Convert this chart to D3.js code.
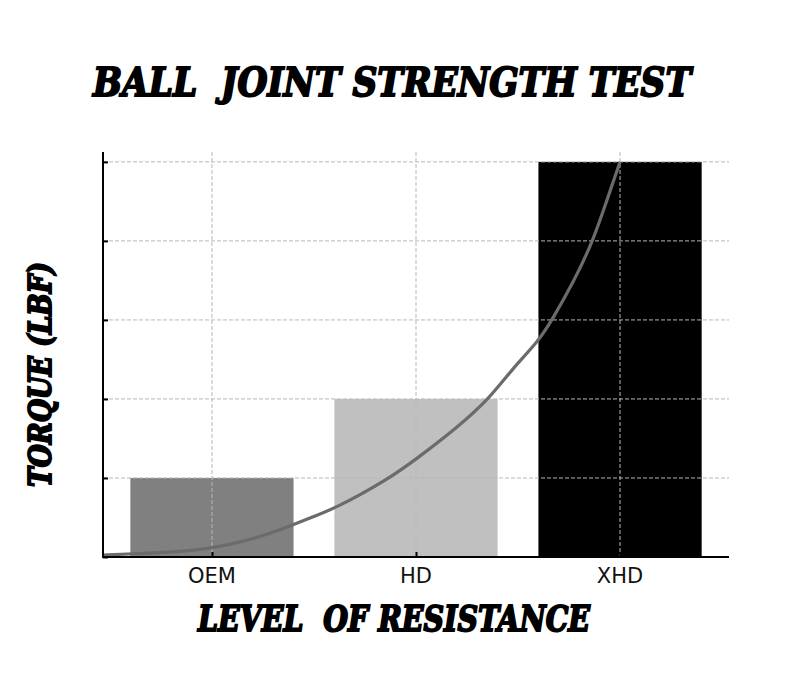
<!DOCTYPE html>
<html>
<head>
<meta charset="utf-8">
<script src="https://cdn.jsdelivr.net/npm/d3@7"></script>
<style>
  body { margin: 0; background: #fff; }
  text { white-space: pre; }
</style>
</head>
<body>
<script>
// chart data
var categories = ["OEM", "HD", "XHD"];
var torque = [1, 2, 5];
var barColors = ["#808080", "#c0c0c0", "#000000"];
var yTicks = [0, 1, 2, 3, 4, 5];
// trend curve (x in category units, y in torque units)
var curveX = [-0.534, -0.387, -0.221, 0.0, 0.186, 0.333, 0.431, 0.603, 0.873, 0.995, 1.201, 1.363, 1.475, 1.598, 1.667, 1.770, 1.868, 1.936, 2.0];
var curveY = [0.025, 0.042, 0.054, 0.105, 0.215, 0.342, 0.447, 0.608, 1.0, 1.228, 1.633, 2.013, 2.392, 2.722, 3.0, 3.468, 4.0, 4.519, 5.0];

var W = 789, H = 700;
var mLeft = 103, mRight = 729, mTop = 152, mBottom = 557;

var svg = d3.select("body").append("svg")
    .attr("width", W)
    .attr("height", H);

var x = d3.scaleLinear().domain([-0.534, 2.534]).range([mLeft, mRight]);
var y = d3.scaleLinear().domain([0, 5.125]).range([mBottom, mTop]);
var barW = 0.8;

// bars
svg.selectAll("rect.bar")
    .data(torque)
    .enter()
    .append("rect")
    .attr("class", "bar")
    .attr("x", function(d, i) { return x(i - barW / 2); })
    .attr("width", function(d, i) { return x(i + barW / 2) - x(i - barW / 2); })
    .attr("y", function(d) { return y(d); })
    .attr("height", function(d) { return y(0) - y(d); })
    .attr("fill", function(d, i) { return barColors[i]; });

// grid on top of bars
svg.selectAll("line.hgrid")
    .data(yTicks.slice(1))
    .enter()
    .append("line")
    .attr("x1", mLeft).attr("x2", mRight)
    .attr("y1", function(d) { return y(d); })
    .attr("y2", function(d) { return y(d); })
    .attr("stroke", "#b8b8b8")
    .attr("stroke-width", 1)
    .attr("stroke-dasharray", "4,2");

svg.selectAll("line.vgrid")
    .data(categories)
    .enter()
    .append("line")
    .attr("x1", function(d, i) { return x(i); })
    .attr("x2", function(d, i) { return x(i); })
    .attr("y1", mTop).attr("y2", mBottom)
    .attr("stroke", "#b8b8b8")
    .attr("stroke-width", 1)
    .attr("stroke-dasharray", "4,2");

// trend line, smoothed through the read points
var pts = curveX.map(function(v, i) { return [v, curveY[i]]; });
svg.append("path")
    .datum(pts)
    .attr("fill", "none")
    .attr("stroke", "#6b6b6b")
    .attr("stroke-width", 3.2)
    .attr("d", d3.line()
        .x(function(d) { return x(d[0]); })
        .y(function(d) { return y(d[1]); })
        .curve(d3.curveBasis));

// axes (ticks point inward, no y labels)
var yAxis = d3.axisRight(y).tickValues(yTicks).tickSize(5).tickFormat("");
var gy = svg.append("g").attr("transform", "translate(" + mLeft + ",0)").call(yAxis);
gy.select(".domain").remove();
gy.selectAll(".tick line").attr("stroke", "#000").attr("stroke-width", 2);

var xAxis = d3.axisTop(x).tickValues([0, 1, 2]).tickSize(5).tickFormat("");
var gx = svg.append("g").attr("transform", "translate(0," + mBottom + ")").call(xAxis);
gx.select(".domain").remove();
gx.selectAll(".tick line").attr("stroke", "#000").attr("stroke-width", 2);

svg.append("line")
    .attr("x1", mLeft).attr("x2", mLeft)
    .attr("y1", mTop).attr("y2", mBottom + 1)
    .attr("stroke", "#000").attr("stroke-width", 2);
svg.append("line")
    .attr("x1", mLeft - 1).attr("x2", mRight)
    .attr("y1", mBottom).attr("y2", mBottom)
    .attr("stroke", "#000").attr("stroke-width", 2);

// category labels
svg.selectAll("text.cat")
    .data(categories)
    .enter()
    .append("text")
    .text(function(d) { return d; })
    .attr("x", function(d, i) { return x(i); })
    .attr("y", 583)
    .attr("text-anchor", "middle")
    .attr("font-family", "DejaVu Sans")
    .attr("font-size", "21px")
    .attr("fill", "#111");

// heavy italic titles
function heavy(sel) {
    sel.attr("font-family", "DejaVu Serif")
        .attr("font-weight", "bold")
        .attr("font-style", "italic")
        .attr("fill", "#000")
        .attr("stroke", "#000")
        .attr("stroke-width", 2)
        .attr("lengthAdjust", "spacingAndGlyphs");
}

svg.append("text")
    .text("BALL  JOINT STRENGTH TEST")
    .attr("x", 93).attr("y", 96)
    .attr("font-size", "40px")
    .attr("textLength", 598)
    .call(heavy);

svg.append("text")
    .text("LEVEL  OF RESISTANCE")
    .attr("x", 198).attr("y", 631)
    .attr("font-size", "35px")
    .attr("textLength", 392)
    .call(heavy);

svg.append("text")
    .text("TORQUE (LBF)")
    .attr("transform", "translate(51,487) rotate(-90)")
    .attr("x", 0).attr("y", 0)
    .attr("font-size", "32px")
    .attr("textLength", 225)
    .call(heavy);
</script>
</body>
</html>
